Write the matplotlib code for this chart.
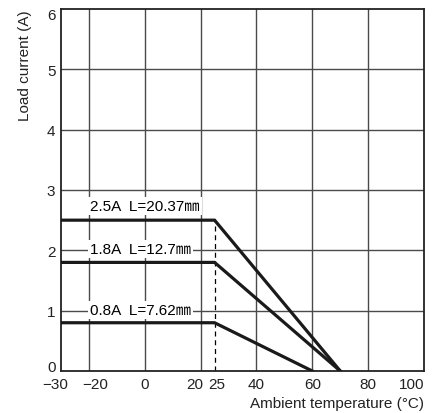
import matplotlib

matplotlib.use("Agg")
import matplotlib.pyplot as plt
from matplotlib.transforms import ScaledTranslation

plt.rcParams["font.family"] = ["Liberation Sans", "Noto Sans CJK JP", "DejaVu Sans"]

# derating curves: (temperature, current)
temp_points = [-30, 25, 70]
current_25 = [2.5, 2.5, 0]
current_18 = [1.8, 1.8, 0]
temp_points_08 = [-30, 25, 60]
current_08 = [0.8, 0.8, 0]

curve_labels = ["2.5A  L=20.37㎜", "1.8A  L=12.7㎜", "0.8A  L=7.62㎜"]
label_y = [2.73, 2.02, 1.01]

xticks = [-30, -20, 0, 20, 25, 40, 60, 80, 100]
xtick_labels = ["\u221230", "\u221220", "0", "20", "25", "40", "60", "80", "100"]
yticks = [0, 1, 2, 3, 4, 5, 6]

fig = plt.figure(figsize=(4.4, 4.14), dpi=100)
ax = fig.add_axes([61 / 440, 42 / 414, 363 / 440, 362 / 414])

ax.set_xlim(-30, 100)
ax.set_ylim(0, 6)

# grid
for gx in [-20, 0, 20, 40, 60, 80]:
    ax.axvline(gx, color="#4a4a4a", lw=1.0, zorder=1)
for gy in [1, 2, 3, 4, 5]:
    ax.axhline(gy, color="#4a4a4a", lw=1.0, zorder=1)

ax.plot([25, 25], [0, 2.5], color="black", lw=0.9, ls=(0, (4, 3)), zorder=2)

ax.plot(temp_points, current_25, color="#1a1a1a", lw=2.3, zorder=4, solid_joinstyle="miter")
ax.plot(temp_points, current_18, color="#1a1a1a", lw=2.3, zorder=4, solid_joinstyle="miter")
ax.plot(temp_points_08, current_08, color="#1a1a1a", lw=2.3, zorder=4, solid_joinstyle="miter")

for text, ty in zip(curve_labels, label_y):
    ax.text(-19.5, ty, text, fontsize=11, va="center", ha="left", zorder=3,
            bbox=dict(facecolor="white", edgecolor="none", pad=1.5))

ax.set_xticks(xticks)
ax.set_xticklabels(xtick_labels)
ax.set_yticks(yticks)
ax.tick_params(length=0, labelsize=11, colors="#222222")
ax.tick_params(axis="x", pad=4)
ax.tick_params(axis="y", pad=4)

# nudge crowded tick labels like the original print
x_shift = {"\u221230": -6, "\u221220": 6, "20": -6, "25": 2, "100": -12}
for lbl in ax.get_xticklabels():
    dx = x_shift.get(lbl.get_text(), 0)
    if dx:
        lbl.set_transform(lbl.get_transform() + ScaledTranslation(dx / 100, 0, fig.dpi_scale_trans))
y_shift = {"0": 5, "6": -5}
for lbl in ax.get_yticklabels():
    dy = y_shift.get(lbl.get_text(), 0)
    if dy:
        lbl.set_transform(lbl.get_transform() + ScaledTranslation(0, dy / 100, fig.dpi_scale_trans))

for spine in ax.spines.values():
    spine.set_linewidth(1.3)
    spine.set_color("#222222")

fig.text(25 / 440, 1 - 10 / 414, "Load current (A)", rotation=90, fontsize=11,
         ha="center", va="top", color="#222222")
fig.text(424 / 440, 1 - 404 / 414, "Ambient temperature (\u00b0C)", fontsize=11,
         ha="right", va="center", color="#222222")

fig.savefig("out.png", dpi=100)
